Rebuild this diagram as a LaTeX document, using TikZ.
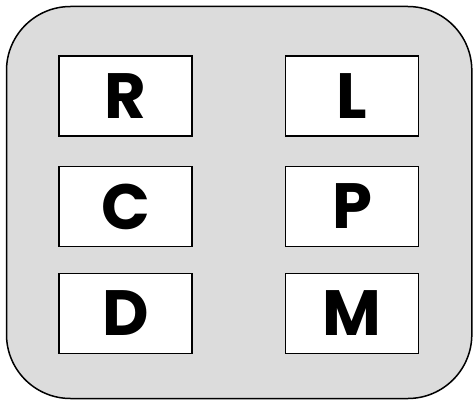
\documentclass[tikz,border=0pt]{standalone}
\usepackage{fontspec}
\setmainfont{Poppins}
\definecolor{panelgray}{HTML}{DCDCDC}
\tikzset{
  letterbox/.style={draw, fill=white, line width=1.3pt, minimum width=133pt, minimum height=80pt,
    inner sep=0pt, font=\fontsize{64}{64}\selectfont\bfseries}
}
\begin{document}
\begin{tikzpicture}[x=1pt,y=-1pt]
\useasboundingbox (0,0) rectangle (473,401);
% grey panel
\draw[line width=1.5pt, fill=panelgray, rounded corners=64pt] (6.5,6.5) rectangle (471.8,398.5);
% two columns of letter boxes
\def\xl{125.5}
\def\xr{352}
\node[letterbox] (r) at (\xl,96) {R};
\node[letterbox] (c) at (\xl,206.5) {C};
\node[letterbox] (d) at (\xl,313.5) {D};
\node[letterbox] (l) at (\xr,96) {L};
\node[letterbox] (p) at (\xr,206.5) {P};
\node[letterbox] (m) at (\xr,313.5) {M};
\end{tikzpicture}
\end{document}
